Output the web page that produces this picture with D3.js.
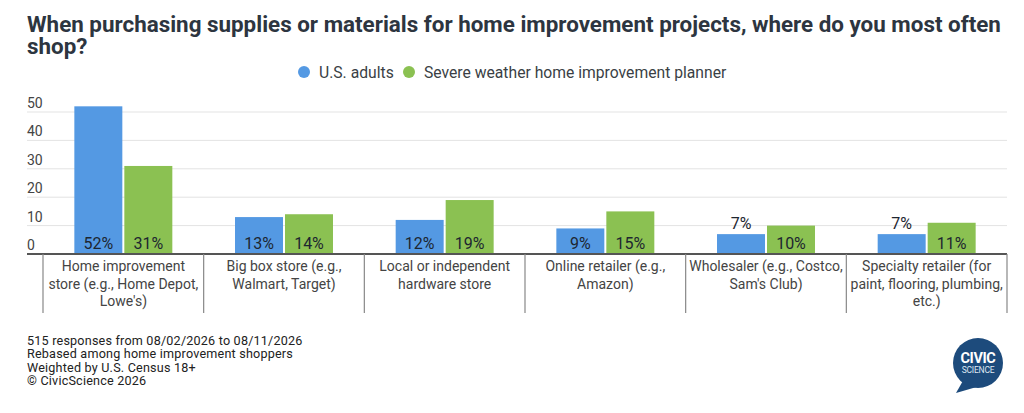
<!DOCTYPE html>
<html>
<head>
<meta charset="utf-8">
<script src="https://cdn.jsdelivr.net/npm/d3@7"></script>
<style>
  body { margin: 0; background: #fff; }
  svg { display: block; font-family: Roboto, "Noto Sans", sans-serif; }
</style>
</head>
<body>
<div class="chart"></div>
<script>
// Data.
const categories = [
    ['Home improvement', 'store (e.g., Home Depot,', "Lowe's)"],
    ['Big box store (e.g.,', 'Walmart, Target)'],
    ['Local or independent', 'hardware store'],
    ['Online retailer (e.g.,', 'Amazon)'],
    ['Wholesaler (e.g., Costco,', "Sam's Club)"],
    ['Specialty retailer (for', 'paint, flooring, plumbing,', 'etc.)']
];
const seriesNames = ['U.S. adults', 'Severe weather home improvement planner'];
const usAdults = [52, 13, 12, 9, 7, 7];
const planners = [31, 14, 19, 15, 10, 11];
const yTicks = [0, 10, 20, 30, 40, 50];
const footnotes = [
    '515 responses from 08/02/2026 to 08/11/2026',
    'Rebased among home improvement shoppers',
    'Weighted by U.S. Census 18+',
    '\u00a9 CivicScience 2026'
];
const colors = ['#5499e3', '#8bc152'];

// Constants.
const width = 1024, height = 413;
const plotLeft = 27, plotRight = 1007, bandLeft = 43, baseY = 254;

const svg = d3.select('.chart')
    .append('svg')
        .attr('width', width)
        .attr('height', height);

// Title.
svg.append('text')
    .attr('x', plotLeft).attr('y', 32)
    .attr('font-size', 22.4).attr('font-weight', 700).attr('fill', '#2d3540')
    .selectAll('tspan')
    .data(['When purchasing supplies or materials for home improvement projects, where do you most often', 'shop?'])
    .join('tspan')
        .attr('x', plotLeft)
        .attr('dy', (d, i) => i ? 21.5 : 0)
        .text(d => d);

// Legend.
const legend = svg.append('g').attr('transform', 'translate(304, 72)');
const legendX = [0, 105];
seriesNames.forEach((name, i) => {
    legend.append('circle')
        .attr('cx', legendX[i]).attr('cy', 0).attr('r', 6)
        .attr('fill', colors[i]);
    legend.append('text')
        .attr('x', legendX[i] + 15).attr('y', 5.5)
        .attr('font-size', 15.7).attr('fill', '#3a3f45')
        .text(name);
});

// Scales.
const x0 = d3.scaleBand()
    .domain(d3.range(categories.length))
    .range([bandLeft, plotRight]);

const x1 = d3.scaleBand()
    .domain([0, 1])
    .range([0, x0.bandwidth()])
    .paddingInner(0.04)
    .paddingOuter(0.627);

const y = d3.scaleLinear()
    .domain([0, 50])
    .range([baseY, 112]);

// Gridlines + tick labels.
const grid = svg.append('g').attr('class', 'grid');
grid.selectAll('line')
    .data(yTicks.filter(d => d > 0))
    .join('line')
        .attr('x1', plotLeft).attr('x2', plotRight)
        .attr('y1', d => y(d)).attr('y2', d => y(d))
        .attr('stroke', '#e3e3e3').attr('stroke-width', 1);
grid.selectAll('text')
    .data(yTicks)
    .join('text')
        .attr('x', plotLeft)
        .attr('y', d => y(d) - 4)
        .attr('font-size', 14).attr('fill', '#444')
        .text(d => d);

// Bars.
const rows = categories.map((c, i) => [usAdults[i], planners[i]]);
const groups = svg.append('g').attr('class', 'bars')
    .selectAll('g')
    .data(rows)
    .join('g')
        .attr('transform', (d, i) => `translate(${x0(i)}, 0)`);

groups.selectAll('rect')
    .data(d => d.map((v, s) => ({v, s})))
    .join('rect')
        .attr('x', d => x1(d.s))
        .attr('y', d => y(d.v))
        .attr('width', x1.bandwidth())
        .attr('height', d => baseY - y(d.v))
        .attr('fill', d => colors[d.s]);

// Value labels: inside the bar bottom, or above it when the bar is short.
groups.selectAll('text')
    .data(d => d.map((v, s) => ({v, s})))
    .join('text')
        .attr('x', d => x1(d.s) + x1.bandwidth() / 2)
        .attr('y', d => (baseY - y(d.v) < 24) ? y(d.v) - 5 : baseY - 5)
        .attr('text-anchor', 'middle')
        .attr('font-size', 16).attr('fill', '#1d2630')
        .text(d => d.v + '%');

// Baseline + category separators.
svg.append('line')
    .attr('x1', plotLeft).attr('x2', plotRight)
    .attr('y1', baseY).attr('y2', baseY)
    .attr('stroke', '#555').attr('stroke-width', 2);

svg.append('g').selectAll('line')
    .data(d3.range(categories.length + 1))
    .join('line')
        .attr('x1', i => x0(i) ?? plotRight)
        .attr('x2', i => x0(i) ?? plotRight)
        .attr('y1', baseY).attr('y2', 313)
        .attr('stroke', '#888').attr('stroke-width', 1.2);

// Category labels.
svg.append('g').selectAll('text')
    .data(categories)
    .join('text')
        .attr('x', (d, i) => x0(i) + x0.bandwidth() / 2)
        .attr('y', 271)
        .attr('text-anchor', 'middle')
        .attr('font-size', 14).attr('fill', '#444')
        .selectAll('tspan')
        .data(d => d)
        .join('tspan')
            .attr('x', function () { return this.parentNode.getAttribute('x'); })
            .attr('dy', (d, i) => i ? 17.5 : 0)
            .text(d => d);

// Footnotes.
svg.append('text')
    .attr('x', plotLeft).attr('y', 345)
    .attr('font-size', 12.6).attr('fill', '#222')
    .attr('letter-spacing', 0.2)
    .selectAll('tspan')
    .data(footnotes)
    .join('tspan')
        .attr('x', plotLeft)
        .attr('dy', (d, i) => i ? 13.4 : 0)
        .text(d => d);

// Logo.
const logo = svg.append('g').attr('transform', 'translate(978, 363)');
logo.append('path')
    .attr('d', 'M -14 16 L -22 30 L 2 23 Z')
    .attr('fill', '#1d4b7c');
logo.append('circle').attr('r', 25).attr('fill', '#1d4b7c');
logo.append('text')
    .attr('y', 0).attr('text-anchor', 'middle')
    .attr('font-size', 14.5).attr('font-weight', 700).attr('fill', '#fff')
    .attr('letter-spacing', -0.4)
    .text('CIVIC');
logo.append('text')
    .attr('y', 10).attr('text-anchor', 'middle')
    .attr('font-size', 8.5).attr('fill', '#dfe8f2')
    .attr('letter-spacing', -0.2)
    .text('SCIENCE');
</script>
</body>
</html>
